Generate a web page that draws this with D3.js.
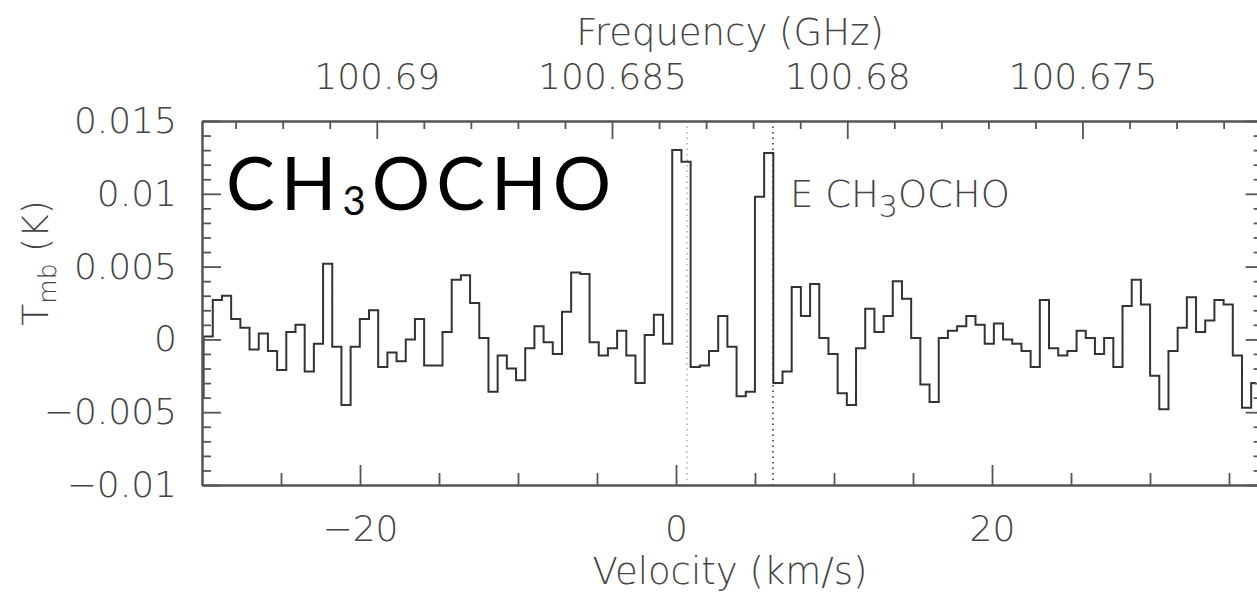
<!DOCTYPE html>
<html>
<head>
<meta charset="utf-8">
<script src="https://cdn.jsdelivr.net/npm/d3@7"></script>
<style>
  body { margin: 0; background: #fff; }
</style>
</head>
<body>
<div id="chart"></div>
<script>
// spectrum: Tmb (K) per channel, first channel centre at v0, width dv (km/s)
const tmb = [
  -0.0040, 0.0002, 0.0027, 0.0030, 0.0014, 0.0008, -0.0007, 0.0004, -0.0008, -0.0021,
  0.0005, 0.0010, -0.0022, -0.0003, 0.0052, -0.0005, -0.0045, -0.0005, 0.0014, 0.0020,
  -0.0019, -0.0009, -0.0015, 0.0000, 0.0014, -0.0018, -0.0018, 0.0005, 0.0041, 0.0044,
  0.0025, 0.0001, -0.0036, -0.0011, -0.0020, -0.0028, -0.0006, 0.0009, -0.0002, -0.0010,
  0.0019, 0.0046, 0.0045, -0.0002, -0.0011, -0.0006, 0.0006, -0.0011, -0.0030, 0.0003,
  0.0017, -0.0003, 0.0130, 0.0122, -0.0019, -0.0018, -0.0008, 0.0016, -0.0005, -0.0039,
  -0.0036, 0.0098, 0.0128, -0.0030, -0.0022, 0.0036, 0.0016, 0.0038, 0.0001, -0.0010,
  -0.0037, -0.0045, -0.0006, 0.0021, 0.0005, 0.0016, 0.0040, 0.0028, 0.0001, -0.0031,
  -0.0043, 0.0001, 0.0006, 0.0009, 0.0016, 0.0010, -0.0003, 0.0011, 0.0000, -0.0003,
  -0.0008, -0.0019, 0.0027, -0.0006, -0.0011, -0.0008, 0.0006, 0.0001, -0.0010, 0.0001,
  -0.0019, 0.0023, 0.0041, 0.0024, -0.0025, -0.0048, -0.0008, 0.0008, 0.0029, 0.0005,
  0.0013, 0.0027, 0.0024, -0.0011, -0.0047, -0.0030
];
const v0 = -30.19;
const dv = 0.5816;

const lineVel = [0.7, 6.14];          // dotted markers
const restFreq = 100.68364;           // GHz at v = 0
const cLight = 299792.458;

const velTicks = [-20, 0, 20];
const velTickLabels = ["\u221220", "0", "20"];
const velMinor = [-25, -15, -10, -5, 5, 10, 15, 25, 30, 35];
const freqTicks = [100.69, 100.685, 100.68, 100.675];
const freqTickLabels = ["100.69", "100.685", "100.68", "100.675"];
const yTicks = [-0.01, -0.005, 0, 0.005, 0.01, 0.015];
const yTickLabels = ["\u22120.01", "\u22120.005", "0", "0.005", "0.01", "0.015"];

const W = 1257, H = 595;
const pLeft = 202, pRight = 1260.6, pTop = 121, pBottom = 485;
const axisCol = "#555";
const txtCol = "#444";
const tickFont = "'DejaVu Sans', sans-serif";

const svg = d3.select("#chart").append("svg")
  .attr("width", W).attr("height", H)
  .style("background", "#fff");

const x = d3.scaleLinear().domain([-30, 37]).range([pLeft, pRight]);
const freqOf = v => restFreq * (1 - v / cLight);
const fx = d3.scaleLinear().domain([freqOf(-30), freqOf(37)]).range([pLeft, pRight]);
const y = d3.scaleLinear().domain([-0.01, 0.015]).range([pBottom, pTop]);

const data = tmb.map((t, i) => ({ v: v0 + i * dv, t: t }));

svg.append("clipPath").attr("id", "plotclip")
  .append("rect").attr("x", pLeft).attr("y", pTop)
  .attr("width", pRight - pLeft).attr("height", pBottom - pTop);

// dotted line markers
svg.append("g").attr("clip-path", "url(#plotclip)")
  .selectAll("line").data(lineVel).enter().append("line")
  .attr("x1", d => x(d)).attr("x2", d => x(d))
  .attr("y1", pTop).attr("y2", pBottom)
  .attr("stroke", (d, i) => i === 0 ? "#999" : "#555")
  .attr("stroke-width", (d, i) => i === 0 ? 1.2 : 1.8)
  .attr("stroke-dasharray", "1.5,4");

// histogram
const line = d3.line().x(d => x(d.v)).y(d => y(d.t)).curve(d3.curveStep);
svg.append("path").datum(data)
  .attr("clip-path", "url(#plotclip)")
  .attr("d", line)
  .attr("fill", "none")
  .attr("stroke", "#333")
  .attr("stroke-width", 2);

function styleAxis(g) {
  g.select(".domain").attr("stroke", axisCol).attr("stroke-width", 2);
  g.selectAll(".tick line").attr("stroke", axisCol).attr("stroke-width", 1.8);
  g.selectAll("text").attr("font-family", tickFont).attr("font-size", 36)
    .attr("font-weight", 300).attr("fill", txtCol);
}

// bottom
svg.append("g").attr("transform", `translate(0,${pBottom})`)
  .call(d3.axisBottom(x).tickValues(velTicks).tickSize(-20).tickSizeOuter(0)
    .tickPadding(30).tickFormat((d, i) => velTickLabels[i]))
  .call(styleAxis);
svg.append("g").attr("transform", `translate(0,${pBottom})`)
  .call(d3.axisBottom(x).tickValues(velMinor).tickSize(-12).tickSizeOuter(0).tickFormat(""))
  .call(styleAxis);

// top (frequency)
svg.append("g").attr("transform", `translate(0,${pTop})`)
  .call(d3.axisTop(fx).tickValues(freqTicks).tickSize(-18).tickSizeOuter(0)
    .tickPadding(32).tickFormat((d, i) => freqTickLabels[i]))
  .call(styleAxis);
const fMinor = d3.range(100.672, 100.6935, 0.001).filter(f => Math.abs(Math.round(f * 200) - f * 200) > 0.01);
svg.append("g").attr("transform", `translate(0,${pTop})`)
  .call(d3.axisTop(fx).tickValues(fMinor).tickSize(-8).tickSizeOuter(0).tickFormat(""))
  .call(styleAxis);

// left
svg.append("g").attr("transform", `translate(${pLeft},0)`)
  .call(d3.axisLeft(y).tickValues(yTicks).tickSize(-19).tickSizeOuter(0)
    .tickPadding(25).tickFormat((d, i) => yTickLabels[i]))
  .call(styleAxis);
const yMinor = d3.range(-9, 15).filter(k => k % 5 !== 0).map(k => k / 1000);
svg.append("g").attr("transform", `translate(${pLeft},0)`)
  .call(d3.axisLeft(y).tickValues(yMinor).tickSize(-9).tickSizeOuter(0).tickFormat(""))
  .call(styleAxis);

// right
svg.append("g").attr("transform", `translate(${pRight},0)`)
  .call(d3.axisRight(y).tickValues(yTicks).tickSize(-15).tickSizeOuter(0).tickFormat(""))
  .call(styleAxis);
svg.append("g").attr("transform", `translate(${pRight},0)`)
  .call(d3.axisRight(y).tickValues(yMinor).tickSize(-7).tickSizeOuter(0).tickFormat(""))
  .call(styleAxis);

// axis titles
svg.append("text").attr("x", 730).attr("y", 45)
  .attr("text-anchor", "middle").attr("font-family", tickFont).attr("font-size", 37)
  .attr("font-weight", 300).attr("fill", txtCol)
  .text("Frequency (GHz)");

svg.append("text").attr("x", 730).attr("y", 584)
  .attr("text-anchor", "middle").attr("font-family", tickFont).attr("font-size", 37)
  .attr("font-weight", 300).attr("fill", txtCol)
  .text("Velocity (km/s)");

const yl = svg.append("text").attr("transform", "translate(48,263) rotate(-90)")
  .attr("text-anchor", "middle").attr("font-family", tickFont).attr("font-size", 36)
  .attr("font-weight", 300).attr("fill", txtCol)
  .attr("text-rendering", "geometricPrecision");
yl.append("tspan").attr("fill", txtCol).text("T");
yl.append("tspan").attr("font-size", 25).attr("dy", 8).text("mb");
yl.append("tspan").attr("dy", -8).text(" (K)");

// line label
const el = svg.append("text").attr("x", 790).attr("y", 207)
  .attr("font-family", tickFont).attr("font-size", 37)
  .attr("font-weight", 300).attr("fill", txtCol);
el.append("tspan").text("E CH");
el.append("tspan").attr("font-size", 30).attr("dy", 10).text("3");
el.append("tspan").attr("dy", -10).text("OCHO");

// big molecule label
const big = svg.append("text").attr("x", 226).attr("y", 210)
  .attr("font-family", "Lato, sans-serif").attr("font-size", 73)
  .attr("letter-spacing", 6).attr("fill", "#000");
big.append("tspan").text("CH");
big.append("tspan").attr("font-size", 40).attr("dy", 5).text("3");
big.append("tspan").attr("dy", -5).text("OCHO");
</script>
</body>
</html>
